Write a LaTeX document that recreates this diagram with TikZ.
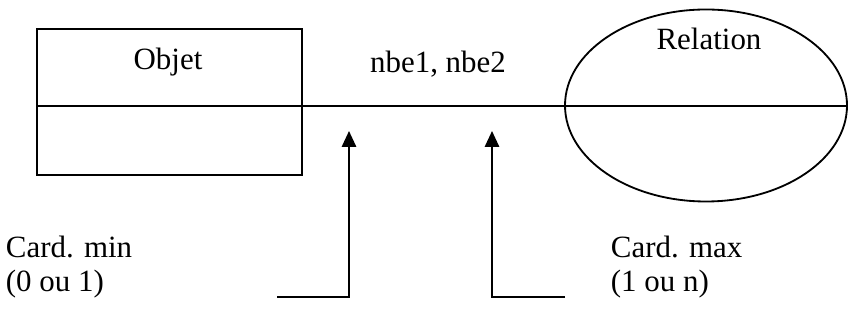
\documentclass[tikz,border=0pt]{standalone}
\usepackage{fontspec}
\setmainfont{Liberation Serif}
\usepackage{tikz}
\usetikzlibrary{arrows.meta,positioning,shapes.geometric}

\begin{document}
\begin{tikzpicture}[
    line width=1.3pt,
    entbox/.style={
        draw, rectangle, minimum width=6.625cm, minimum height=3.65cm, inner sep=0pt
    },
    relshape/.style={
        draw, ellipse, minimum width=7.05cm, minimum height=4.8cm, inner sep=0pt
    },
    lbl/.style={font=\fontsize{22}{24.2}\selectfont, inner sep=0pt},
    cardlbl/.style={lbl, align=left, anchor=base west},
    arr/.style={-{Triangle[width=0.36cm,length=0.4cm]}}
]

% Canvas
\useasboundingbox (0,0) rectangle (21.2,8.35);

% Entity box and relation ellipse
\node[entbox] (objet) at (4.2375, 5.8) {};
\node[relshape] (relation) at (17.65, 5.7125) {};

% Texts
\node[lbl, anchor=base] (objtxt) at (4.2, 6.6) {Objet};
\node[lbl, anchor=base] (nbetxt) at (10.95, 6.525) {nbe1, nbe2};
\node[lbl, anchor=base] (reltxt) at (17.725, 7.1) {Relation};

% Link through box and ellipse
\coordinate (lstart) at (0.925, 5.7);
\coordinate (lend) at (21.2, 5.7);
\draw (lstart) -- (lend);

% Cardinality labels
\node[cardlbl] (cmin) at (0.125, 1.05) {Card. min\\(0 ou 1)};
\node[cardlbl] (cmax) at (15.25, 1.05) {Card. max\\(1 ou n)};

% Pointer arrows
\coordinate (minend) at (6.925, 0.925);
\coordinate (minfoot) at (8.725, 0.925);
\coordinate (mintip) at (8.725, 5.075);
\coordinate (maxend) at (14.125, 0.925);
\coordinate (maxfoot) at (12.3, 0.925);
\coordinate (maxtip) at (12.3, 5.075);
\draw[arr] (minend) -- (minfoot) -- (mintip);
\draw[arr] (maxend) -- (maxfoot) -- (maxtip);

\end{tikzpicture}
\end{document}
